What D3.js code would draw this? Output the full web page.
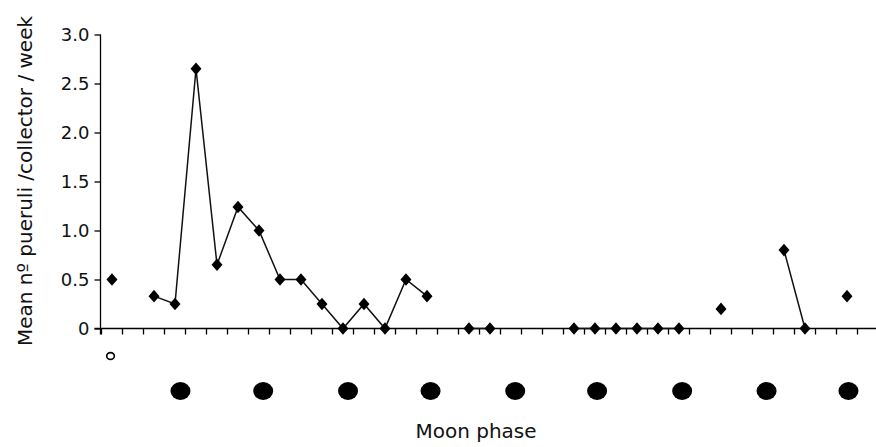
<!DOCTYPE html>
<html>
<head>
<meta charset="utf-8">
<script src="https://cdn.jsdelivr.net/npm/d3@7"></script>
<style>
  html, body { margin: 0; padding: 0; background: #fff; }
  svg { display: block; font-family: "DejaVu Sans", Verdana, sans-serif; }
</style>
</head>
<body>
<svg id="chart" width="876" height="447"></svg>
<script>
// Weekly categories (36 weeks); null = no data
const weeks = d3.range(36);
const pueruli = [0.5, null, 0.33, 0.25, 2.65, 0.65, 1.24, 1.0, 0.5, 0.5, 0.25, 0, 0.25, 0, 0.5, 0.33,
  null, 0, 0, null, null, null, 0, 0, 0, 0, 0, 0, null, 0.2, null, null, 0.8, 0, null, 0.33];
const yTicks = [0, 0.5, 1.0, 1.5, 2.0, 2.5, 3.0];
const yTickLabels = ["0", "0.5", "1.0", "1.5", "2.0", "2.5", "3.0"];
// Moon phases, position in weeks along the axis
const newMoon = [0.43];
const fullMoon = [3.76, 7.70, 11.74, 15.67, 19.70, 23.60, 27.65, 31.67, 35.57];

const svg = d3.select("#chart");
const mLeft = 101.5, mRight = 857.5, mTop = 34.5, mBottom = 328.5;

const x = d3.scaleBand().domain(weeks).range([mLeft, mRight]);
const xPos = d3.scaleLinear().domain([0, 36]).range([mLeft, mRight]);
const y = d3.scaleLinear().domain([0, 3]).range([mBottom, mTop]);

// y axis
const yAxis = d3.axisLeft(y).tickValues(yTicks)
  .tickFormat((d, i) => yTickLabels[i]).tickSize(6).tickSizeOuter(0).tickPadding(5);
const gy = svg.append("g").attr("transform", `translate(${mLeft - 1},0)`).call(yAxis);
gy.select(".domain").attr("d", `M0,${mTop}V${mBottom + 6}`).attr("stroke", "#000").attr("stroke-width", 1.3);
gy.selectAll(".tick line").attr("stroke", "#000").attr("stroke-width", 1.3);
gy.selectAll(".tick text").attr("font-size", 18).attr("fill", "#111")
  .attr("font-family", "DejaVu Sans, Verdana, sans-serif");

// x axis (category ticks between weeks)
const gx = svg.append("g").attr("transform", `translate(0,${mBottom})`);
gx.append("line").attr("x1", mLeft - 7).attr("x2", mRight + 20).attr("y1", 0).attr("y2", 0)
  .attr("stroke", "#000").attr("stroke-width", 1.3);
gx.selectAll("line.t").data(d3.range(37)).join("line").attr("class", "t")
  .attr("x1", d => xPos(d)).attr("x2", d => xPos(d)).attr("y1", 0).attr("y2", 6)
  .attr("stroke", "#000").attr("stroke-width", 1.3);

// line with gaps
const line = d3.line()
  .defined(d => d.v !== null)
  .x(d => x(d.w) + x.bandwidth() / 2)
  .y(d => y(d.v));
const data = weeks.map((w, i) => ({ w, v: pueruli[i] }));
svg.append("path").datum(data).attr("d", line)
  .attr("fill", "none").attr("stroke", "#111").attr("stroke-width", 1.5);

// diamond markers (slightly taller than wide)
const tallDiamond = {
  draw(ctx, size) {
    const w = Math.sqrt(size) * 0.5, h = w * 1.15;
    ctx.moveTo(0, -h); ctx.lineTo(w, 0); ctx.lineTo(0, h); ctx.lineTo(-w, 0); ctx.closePath();
  }
};
const diamond = d3.symbol().type(tallDiamond).size(120);
svg.append("g").selectAll("path").data(data.filter(d => d.v !== null)).join("path")
  .attr("transform", d => `translate(${x(d.w) + x.bandwidth() / 2},${y(d.v)})`)
  .attr("d", diamond).attr("fill", "#000");

// moon phases
svg.append("g").selectAll("ellipse").data(newMoon).join("ellipse")
  .attr("cx", d => xPos(d)).attr("cy", 356).attr("rx", 3.8).attr("ry", 3.4)
  .attr("fill", "#fff").attr("stroke", "#000").attr("stroke-width", 1.6);
svg.append("g").selectAll("ellipse").data(fullMoon).join("ellipse")
  .attr("cx", d => xPos(d)).attr("cy", 391).attr("rx", 10).attr("ry", 9)
  .attr("fill", "#000");

// axis titles
svg.append("text").attr("x", 476).attr("y", 438).attr("text-anchor", "middle")
  .attr("font-size", 20).attr("fill", "#111").text("Moon phase");
svg.append("text").attr("transform", "translate(32,181) rotate(-90)")
  .attr("text-anchor", "middle").attr("font-size", 20).attr("fill", "#111")
  .text("Mean nº pueruli /collector / week");
</script>
</body>
</html>
